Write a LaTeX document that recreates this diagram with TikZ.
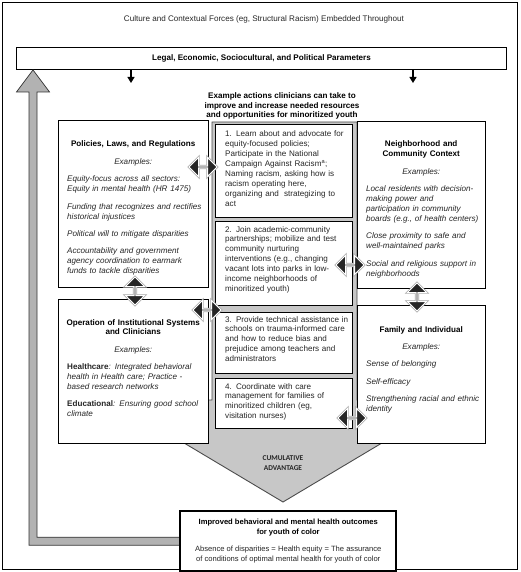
\documentclass[tikz,border=0pt]{standalone}
\usepackage{fontspec}
\setmainfont{Liberation Sans}
\newfontfamily\capfont{Carlito}
\usetikzlibrary{
  shapes.arrows
  , arrows.meta
  , calc
}

\newcommand{\bodyfont}{\fontsize{8.1}{9.9}\selectfont}
\newcommand{\boxhead}[1]{{\centering\leftskip=-8pt plus 1fil\rightskip=8pt plus 1fil%
  \color{black}\bfseries #1\par}}
\newcommand{\examples}{{\centering\leftskip=-8pt plus 1fil\rightskip=8pt plus 1fil%
  \itshape Examples:\par}}

\tikzset{
  frame/.style={draw=black, line width=0.8pt},
  sidebox/.style={draw=black, line width=1.4pt, fill=white, anchor=north west,
    inner sep=0pt},
  boxtext/.style={inner sep=0pt, anchor=base west, align=left, font=\bodyfont,
    text=black!85, execute at begin node={\setlength{\parskip}{7.5pt}}},
  dblarrow/.style={double arrow, double arrow head extend=5pt,
    minimum width=19pt, minimum height=28pt, inner sep=0pt,
    fill=black!85, draw=white, line width=1pt,
    preaction={draw=black!35, line width=2.4pt}},
  downarrow/.style={line width=1.2pt, -{Triangle[width=7pt,length=6pt]}},
  bigarrow/.style={draw=black!80, line width=0.7pt, fill=black!30},
}

\begin{document}
\begin{tikzpicture}[x=1pt, y=-1pt]
  \useasboundingbox (0,0) rectangle (520,572);

  % outer frame and its caption
  \draw[frame] (2,2) rectangle (517,569);
  \node[font=\bodyfont, text=black!85] (culture) at (264,19)
    {Culture and Contextual Forces (eg, Structural Racism) Embedded Throughout};

  \node[draw=black, line width=1pt, fill=white, anchor=north west,
    minimum width=490pt, minimum height=22pt, inner sep=0pt,
    font=\bodyfont\bfseries] (legal) at (16,47)
    {Legal, Economic, Sociocultural, and Political Parameters};

  \node[font=\bodyfont\bfseries, align=center] (actions) at (282,106)
    {Example actions clinicians can take to\\
     improve and increase needed resources\\
     and opportunities for minoritized youth};

  % gray column ending in the chevron
  \draw[draw=black!70, line width=0.9pt, fill=black!22]
    (212,122) -- (357,122) -- (357,400) -- (454,400)
    -- (283,502) -- (112,400) -- (212,400) -- cycle;

  % the four contexts
  \node[sidebox, minimum width=150pt, minimum height=167pt] (policies) at (58,120) {};
  \node[boxtext, text width=148pt] (policiestext) at ($(policies.north west)+(9,27)$) {
    \boxhead{Policies, Laws, and Regulations}
    \examples
    {\itshape Equity-focus across all sectors:\\ Equity in mental health (HR 1475)\par}
    {\itshape Funding that recognizes and rectifies\\ historical injustices\par}
    {\itshape Political will to mitigate disparities\par}
    {\itshape Accountability and government\\ agency coordination to earmark\\
      funds to tackle disparities\par}};

  \node[sidebox, minimum width=150pt, minimum height=144pt] (operation) at (58,299) {};
  \node[boxtext, text width=148pt] (operationtext) at ($(operation.north west)+(9,26)$) {
    \boxhead{Operation of Institutional Systems\\ and Clinicians}
    \examples
    {\textbf{Healthcare}\textit{: Integrated behavioral}\\
      \textit{health in Health care; Practice -}\\
      \textit{based research networks}\par}
    {\textbf{Educational}\textit{: Ensuring good school}\\ \textit{climate}\par}};

  \node[sidebox, minimum width=128pt, minimum height=167pt] (neighborhood) at (357,121) {};
  \node[boxtext, text width=126pt] (neighborhoodtext)
    at ($(neighborhood.north west)+(9,26)$) {
    \boxhead{Neighborhood and\\ Community Context}
    \examples
    {\itshape Local residents with decision-\\making power and\\
      participation in community\\boards (e.g., of health centers)\par}
    {\itshape Close proximity to safe and\\well-maintained parks\par}
    {\itshape Social and religious support in\\neighborhoods\par}};

  \node[sidebox, minimum width=128pt, minimum height=138pt] (family) at (357,305) {};
  \node[boxtext, text width=126pt] (familytext) at ($(family.north west)+(9,27)$) {
    \boxhead{Family and Individual}
    \examples
    {\itshape Sense of belonging\par}
    {\itshape Self-efficacy\par}
    {\itshape Strengthening racial and ethnic\\identity\par}};

  % example actions
  \node[sidebox, minimum width=137pt, minimum height=93pt] (act1) at (215,124) {};
  \node[boxtext, text width=130pt] (act1text) at ($(act1.north west)+(10,13)$)
    {1. Learn about and advocate for\\equity-focused policies;\\
     Participate in the National\\Campaign Against Racism\textsuperscript{a};\\
     Naming racism, asking how is\\racism operating here,\\
     organizing and\ \ strategizing to\\act};
  \node[sidebox, minimum width=137pt, minimum height=84pt] (act2) at (215,221) {};
  \node[boxtext, text width=130pt] (act2text) at ($(act2.north west)+(10,11)$)
    {2. Join academic-community\\partnerships; mobilize and test\\
     community nurturing\\interventions (e.g., changing\\
     vacant lots into parks in low-\\income neighborhoods of\\minoritized youth)};
  \node[sidebox, minimum width=137pt, minimum height=61pt] (act3) at (215,312) {};
  \node[boxtext, text width=130pt] (act3text) at ($(act3.north west)+(10,10)$)
    {3. Provide technical assistance in\\schools on trauma-informed care\\
     and how to reduce bias and\\prejudice among teachers and\\administrators};
  \node[sidebox, minimum width=137pt, minimum height=50pt] (act4) at (215,378) {};
  \node[boxtext, text width=130pt] (act4text) at ($(act4.north west)+(10,11)$)
    {4. Coordinate with care\\management for families of\\
     minoritized children (eg,\\visitation nurses)};

  \node[font=\capfont\bfseries\fontsize{7.4}{10}\selectfont, text=black!85,
    align=center] (advantage) at (283,463) {CUMULATIVE\\ADVANTAGE};

  % outcome box and the feedback arrow
  \coordinate (tip) at ($(legal.south west)+(17,0)$);
  \node[draw=black, line width=1.4pt, fill=white, anchor=north west,
    minimum width=215pt, minimum height=59pt, inner sep=0pt, align=center,
    font=\fontsize{7.6}{10}\selectfont, text=black!85] (outcome) at (180,511)
    {\textcolor{black}{\textbf{Improved behavioral and mental health outcomes}}\\
     \textcolor{black}{\textbf{for youth of color}}\\[7pt]
     Absence of disparities = Health equity = The assurance\\
     of conditions of optimal mental health for youth of color};
  \draw[bigarrow] ($(outcome.west)+(0,-4)$) -| ($(tip)+(4,22)$) -- ++(12.5,0)
    -- (tip) -- ++(-16.5,22) -- ++(12.5,0) |- ($(outcome.west)+(0,4)$) -- cycle;
  \draw[draw=black, line width=1.4pt] (outcome.north west) rectangle (outcome.south east);

  % parameters feed down
  \coordinate (downl) at (131,83);
  \coordinate (downr) at (413,83);
  \draw[downarrow] (legal.south -| downl) -- (downl);
  \draw[downarrow] (legal.south -| downr) -- (downr);

  % two-way links
  \node[dblarrow] (polact) at (203,167) {};
  \node[dblarrow, shape border rotate=90] (polop) at (135,291) {};
  \node[dblarrow] (opact) at (207,310) {};
  \node[dblarrow] (actnb) at (350,265) {};
  \node[dblarrow, shape border rotate=90] (nbfam) at (417,297) {};
  \node[dblarrow] (actfam) at (352,418) {};
\end{tikzpicture}
\end{document}
